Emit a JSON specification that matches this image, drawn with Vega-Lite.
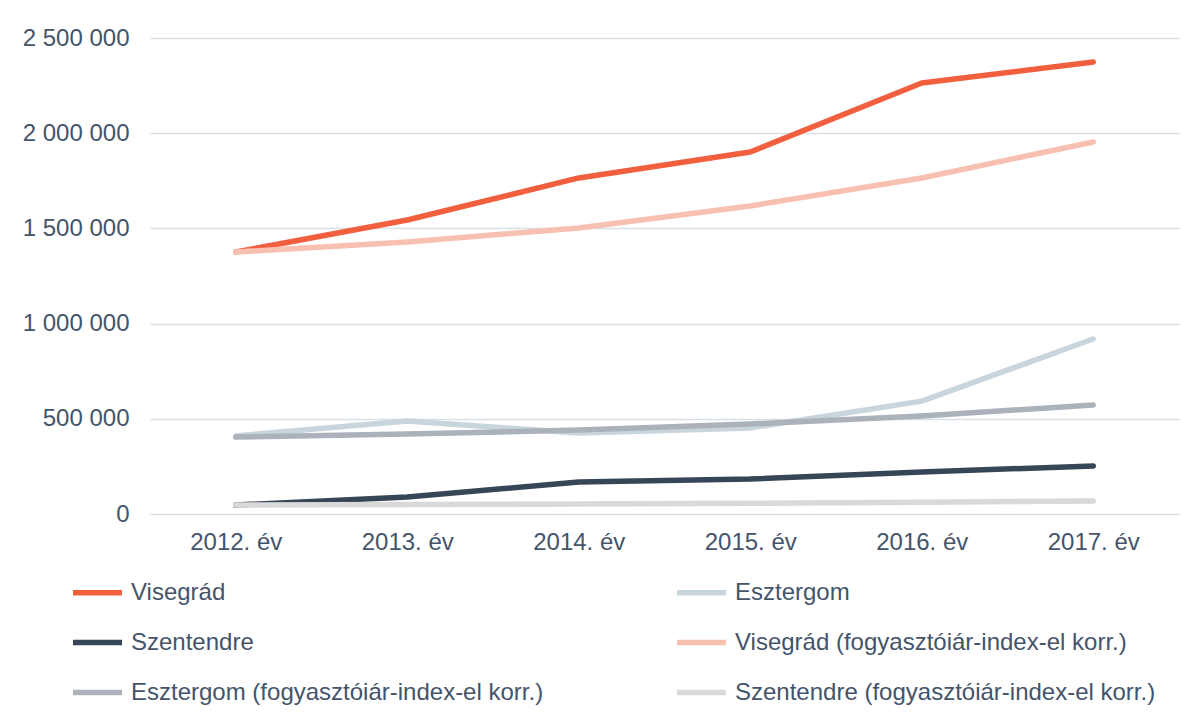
{
  "$schema": "https://vega.github.io/schema/vega-lite/v6.json",
  "width": 1029,
  "height": 476,
  "autosize": {"type": "none"},
  "padding": {"left": 150, "top": 38, "right": 20, "bottom": 211},
  "background": "white",
  "config": {
    "view": {"stroke": null},
    "font": "Liberation Sans",
    "axis": {"labelFont": "Liberation Sans", "labelColor": "#44546A", "labelFontSize": 24, "domain": false, "ticks": false, "gridColor": "#D9DFE7", "gridWidth": 1.5, "title": null},
    "legend": {"labelFont": "Liberation Sans", "labelColor": "#44546A", "labelFontSize": 24}
  },
  "data": {
    "values": [
      {"ev": "2012. év", "sorozat": "Visegrád", "ertek": 1376000},
      {"ev": "2013. év", "sorozat": "Visegrád", "ertek": 1544000},
      {"ev": "2014. év", "sorozat": "Visegrád", "ertek": 1765000},
      {"ev": "2015. év", "sorozat": "Visegrád", "ertek": 1901000},
      {"ev": "2016. év", "sorozat": "Visegrád", "ertek": 2264000},
      {"ev": "2017. év", "sorozat": "Visegrád", "ertek": 2374000},
      {"ev": "2012. év", "sorozat": "Esztergom", "ertek": 410000},
      {"ev": "2013. év", "sorozat": "Esztergom", "ertek": 488000},
      {"ev": "2014. év", "sorozat": "Esztergom", "ertek": 425000},
      {"ev": "2015. év", "sorozat": "Esztergom", "ertek": 452000},
      {"ev": "2016. év", "sorozat": "Esztergom", "ertek": 593000},
      {"ev": "2017. év", "sorozat": "Esztergom", "ertek": 919000},
      {"ev": "2012. év", "sorozat": "Szentendre", "ertek": 47000},
      {"ev": "2013. év", "sorozat": "Szentendre", "ertek": 89000},
      {"ev": "2014. év", "sorozat": "Szentendre", "ertek": 168000},
      {"ev": "2015. év", "sorozat": "Szentendre", "ertek": 184000},
      {"ev": "2016. év", "sorozat": "Szentendre", "ertek": 221000},
      {"ev": "2017. év", "sorozat": "Szentendre", "ertek": 252000},
      {"ev": "2012. év", "sorozat": "Visegrád (fogyasztóiár-index-el korr.)", "ertek": 1376000},
      {"ev": "2013. év", "sorozat": "Visegrád (fogyasztóiár-index-el korr.)", "ertek": 1429000},
      {"ev": "2014. év", "sorozat": "Visegrád (fogyasztóiár-index-el korr.)", "ertek": 1502000},
      {"ev": "2015. év", "sorozat": "Visegrád (fogyasztóiár-index-el korr.)", "ertek": 1618000},
      {"ev": "2016. év", "sorozat": "Visegrád (fogyasztóiár-index-el korr.)", "ertek": 1765000},
      {"ev": "2017. év", "sorozat": "Visegrád (fogyasztóiár-index-el korr.)", "ertek": 1954000},
      {"ev": "2012. év", "sorozat": "Esztergom (fogyasztóiár-index-el korr.)", "ertek": 404000},
      {"ev": "2013. év", "sorozat": "Esztergom (fogyasztóiár-index-el korr.)", "ertek": 420000},
      {"ev": "2014. év", "sorozat": "Esztergom (fogyasztóiár-index-el korr.)", "ertek": 441000},
      {"ev": "2015. év", "sorozat": "Esztergom (fogyasztóiár-index-el korr.)", "ertek": 473000},
      {"ev": "2016. év", "sorozat": "Esztergom (fogyasztóiár-index-el korr.)", "ertek": 515000},
      {"ev": "2017. év", "sorozat": "Esztergom (fogyasztóiár-index-el korr.)", "ertek": 572000},
      {"ev": "2012. év", "sorozat": "Szentendre (fogyasztóiár-index-el korr.)", "ertek": 47000},
      {"ev": "2013. év", "sorozat": "Szentendre (fogyasztóiár-index-el korr.)", "ertek": 50000},
      {"ev": "2014. év", "sorozat": "Szentendre (fogyasztóiár-index-el korr.)", "ertek": 53000},
      {"ev": "2015. év", "sorozat": "Szentendre (fogyasztóiár-index-el korr.)", "ertek": 56000},
      {"ev": "2016. év", "sorozat": "Szentendre (fogyasztóiár-index-el korr.)", "ertek": 62000},
      {"ev": "2017. év", "sorozat": "Szentendre (fogyasztóiár-index-el korr.)", "ertek": 68000}
    ]
  },
  "mark": {"type": "line", "strokeCap": "round", "strokeJoin": "round"},
  "encoding": {
    "x": {
      "field": "ev", "type": "ordinal",
      "scale": {"type": "point", "padding": 0.5},
      "axis": {"labelAngle": 0, "labelPadding": 16, "grid": false}
    },
    "y": {
      "field": "ertek", "type": "quantitative",
      "scale": {"domain": [0, 2500000]},
      "axis": {"values": [0, 500000, 1000000, 1500000, 2000000, 2500000], "labelPadding": 21, "labelExpr": "replace(format(datum.value, ','), regexp(',', 'g'), ' ')"}
    },
    "color": {
      "field": "sorozat", "type": "nominal",
      "sort": ["Visegrád", "Szentendre", "Esztergom (fogyasztóiár-index-el korr.)", "Esztergom", "Visegrád (fogyasztóiár-index-el korr.)", "Szentendre (fogyasztóiár-index-el korr.)"],
      "scale": {
        "domain": ["Visegrád", "Szentendre", "Esztergom (fogyasztóiár-index-el korr.)", "Esztergom", "Visegrád (fogyasztóiár-index-el korr.)", "Szentendre (fogyasztóiár-index-el korr.)"],
        "range": ["#F15F3F", "#374656", "#ABB2BA", "#C9D5DD", "#F8C0B0", "#D9D9D9"]
      },
      "legend": {
        "title": null, "orient": "none", "legendX": -80, "legendY": 527,
        "columns": 2, "columnPadding": 122, "rowPadding": 10,
        "symbolType": "stroke", "symbolSize": 2400, "labelOffset": 6, "labelLimit": 600
      }
    },
    "strokeWidth": {
      "field": "sorozat", "type": "nominal",
      "sort": ["Visegrád", "Szentendre", "Esztergom (fogyasztóiár-index-el korr.)", "Esztergom", "Visegrád (fogyasztóiár-index-el korr.)", "Szentendre (fogyasztóiár-index-el korr.)"],
      "scale": {
        "domain": ["Visegrád", "Szentendre", "Esztergom (fogyasztóiár-index-el korr.)", "Esztergom", "Visegrád (fogyasztóiár-index-el korr.)", "Szentendre (fogyasztóiár-index-el korr.)"],
        "range": [5.5, 5.5, 3.5, 5.5, 3.5, 3.5]
      },
      "legend": null
    }
  }
}
